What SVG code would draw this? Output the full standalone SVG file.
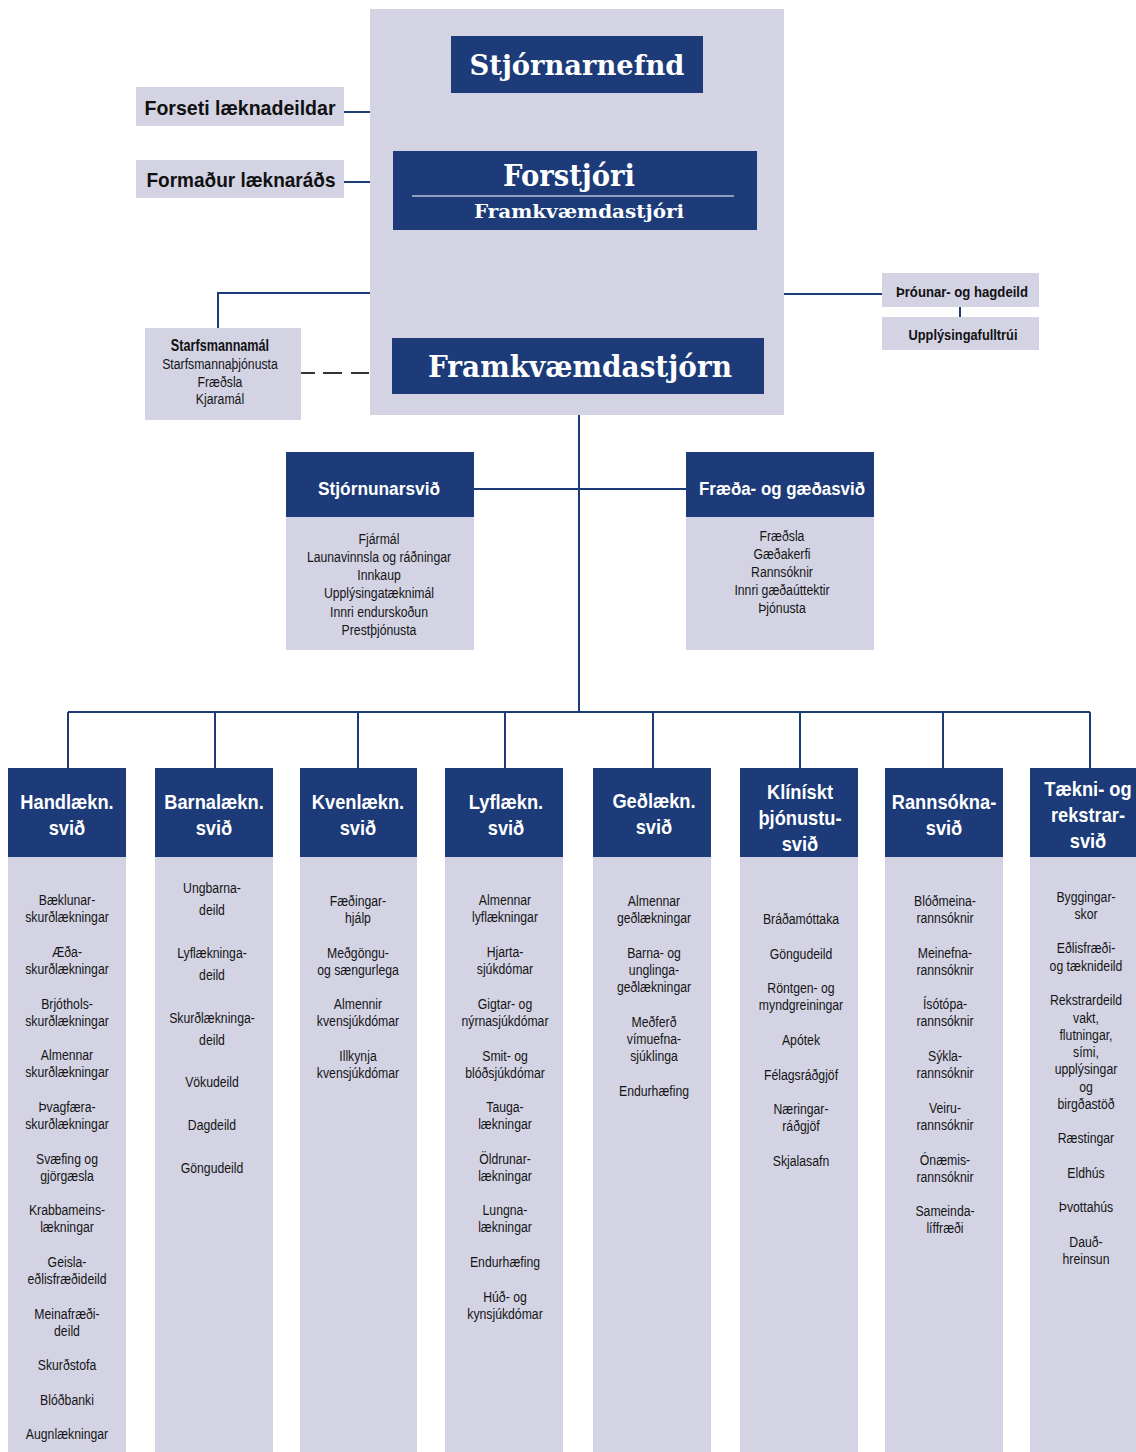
<svg xmlns="http://www.w3.org/2000/svg" width="1136" height="1452" viewBox="0 0 1136 1452">
<style>
.bg{fill:#d3d3e4}
.nv{fill:#1c3b78}
.ln{stroke:#1c3b78;stroke-width:2;fill:none}
.ttl{font-family:"DejaVu Serif","Liberation Serif",serif;font-weight:bold;fill:#fff;text-anchor:middle}
.hd{font-family:"Liberation Sans",Arial,sans-serif;font-weight:bold;fill:#fff;text-anchor:middle;font-size:21px}
.sh{font-family:"Liberation Sans",Arial,sans-serif;font-weight:bold;fill:#fff;text-anchor:middle;font-size:18px}
.bl{font-family:"Liberation Sans",Arial,sans-serif;font-weight:bold;fill:#111;text-anchor:middle}
.tx{font-family:"Liberation Sans",Arial,sans-serif;fill:#151515;text-anchor:middle;font-size:15.5px}
</style>
<rect width="1136" height="1452" fill="#fff"/>
<g id="connectors">
<path class="ln" d="M344 112H370M344 182H370M218 328V293H370M784 294H882M960 307V317M579 415V712M474 489H686M68 712H1090M68 712V768M215 712V768M358 712V768M505 712V768M653 712V768M800 712V768M943 712V768M1090 712V768"/>
<path d="M301 373H370" stroke="#333" stroke-width="2" fill="none" stroke-dasharray="14,8,19,9,18"/>
</g>
<g id="panel"><rect class="bg" x="370" y="9" width="414" height="406"/></g>
<g id="stjornarnefnd"><rect class="nv" x="451" y="36" width="252" height="57"/><text class="ttl" x="577" y="75" font-size="28" textLength="215" lengthAdjust="spacingAndGlyphs">Stjórnarnefnd</text></g>
<g id="forstjori"><rect class="nv" x="393" y="151" width="364" height="79"/><text class="ttl" x="569" y="186" font-size="29" textLength="132" lengthAdjust="spacingAndGlyphs">Forstjóri</text><line x1="412" y1="196" x2="734" y2="196" stroke="#fff" stroke-width="1.2"/><text class="ttl" x="579" y="218" font-size="19" textLength="210" lengthAdjust="spacingAndGlyphs">Framkvæmdastjóri</text></g>
<g id="framkvaemdastjorn"><rect class="nv" x="392" y="338" width="372" height="56"/><text class="ttl" x="580" y="377" font-size="30" textLength="304" lengthAdjust="spacingAndGlyphs">Framkvæmdastjórn</text></g>
<g id="forseti"><rect class="bg" x="136" y="87" width="208" height="39"/><text class="bl" x="240" y="115" font-size="21" textLength="191" lengthAdjust="spacingAndGlyphs">Forseti læknadeildar</text></g>
<g id="formadur"><rect class="bg" x="136" y="160" width="208" height="38"/><text class="bl" x="241" y="187" font-size="21" textLength="189" lengthAdjust="spacingAndGlyphs">Formaður læknaráðs</text></g>
<g id="starfsmannamal"><rect class="bg" x="145" y="328" width="156" height="92"/><g transform="matrix(0.79,0,0,1,46.2,0)"><text class="bl" x="220" y="351" font-size="16">Starfsmannamál</text><text class="tx" x="220" y="369">Starfsmannaþjónusta</text><text class="tx" x="220" y="387">Fræðsla</text><text class="tx" x="220" y="404">Kjaramál</text></g></g>
<g id="throunar"><rect class="bg" x="882" y="273" width="157" height="34"/><text class="bl" x="962" y="297" font-size="14.5" textLength="132" lengthAdjust="spacingAndGlyphs">Þróunar- og hagdeild</text></g>
<g id="upplysingafulltrui"><rect class="bg" x="882" y="317" width="157" height="33"/><text class="bl" x="963" y="340" font-size="14.5" textLength="109" lengthAdjust="spacingAndGlyphs">Upplýsingafulltrúi</text></g>
<g id="stjornunarsvid"><rect class="nv" x="286" y="452" width="188" height="65"/><rect class="bg" x="286" y="517" width="188" height="133"/><text class="sh" x="379" y="495" textLength="122" lengthAdjust="spacingAndGlyphs">Stjórnunarsvið</text>
<g transform="matrix(0.79,0,0,1,79.59,0)"><text class="tx" x="379" y="544">Fjármál</text><text class="tx" x="379" y="562">Launavinnsla og ráðningar</text><text class="tx" x="379" y="580">Innkaup</text><text class="tx" x="379" y="598">Upplýsingatæknimál</text><text class="tx" x="379" y="617">Innri endurskoðun</text><text class="tx" x="379" y="635">Prestþjónusta</text></g></g>
<g id="fraedasvid"><rect class="nv" x="686" y="452" width="188" height="65"/><rect class="bg" x="686" y="517" width="188" height="133"/><text class="sh" x="782" y="495" textLength="166" lengthAdjust="spacingAndGlyphs">Fræða- og gæðasvið</text>
<g transform="matrix(0.79,0,0,1,164.22,0)"><text class="tx" x="782" y="541">Fræðsla</text><text class="tx" x="782" y="559">Gæðakerfi</text><text class="tx" x="782" y="577">Rannsóknir</text><text class="tx" x="782" y="595">Innri gæðaúttektir</text><text class="tx" x="782" y="613">Þjónusta</text></g></g>
<g id="handlaekn"><rect class="nv" x="8" y="768" width="118" height="89"/><rect class="bg" x="8" y="857" width="118" height="595"/><g transform="matrix(0.87,0,0,1,8.71,0)"><text class="hd" x="67" y="809">Handlækn.</text><text class="hd" x="67" y="835">svið</text></g>
<g transform="matrix(0.79,0,0,1,14.07,0)"><text class="tx" x="67" y="905">Bæklunar-</text><text class="tx" x="67" y="922">skurðlækningar</text><text class="tx" x="67" y="957">Æða-</text><text class="tx" x="67" y="974">skurðlækningar</text><text class="tx" x="67" y="1009">Brjóthols-</text><text class="tx" x="67" y="1026">skurðlækningar</text><text class="tx" x="67" y="1060">Almennar</text><text class="tx" x="67" y="1077">skurðlækningar</text><text class="tx" x="67" y="1112">Þvagfæra-</text><text class="tx" x="67" y="1129">skurðlækningar</text><text class="tx" x="67" y="1164">Svæfing og</text><text class="tx" x="67" y="1181">gjörgæsla</text><text class="tx" x="67" y="1215">Krabbameins-</text><text class="tx" x="67" y="1232">lækningar</text><text class="tx" x="67" y="1267">Geisla-</text><text class="tx" x="67" y="1284">eðlisfræðideild</text><text class="tx" x="67" y="1319">Meinafræði-</text><text class="tx" x="67" y="1336">deild</text><text class="tx" x="67" y="1370">Skurðstofa</text><text class="tx" x="67" y="1405">Blóðbanki</text><text class="tx" x="67" y="1439">Augnlækningar</text></g></g>
<g id="barnalaekn"><rect class="nv" x="155" y="768" width="118" height="89"/><rect class="bg" x="155" y="857" width="118" height="595"/><g transform="matrix(0.87,0,0,1,27.82,0)"><text class="hd" x="214" y="809">Barnalækn.</text><text class="hd" x="214" y="835">svið</text></g>
<g transform="matrix(0.79,0,0,1,44.52,0)"><text class="tx" x="212" y="893">Ungbarna-</text><text class="tx" x="212" y="915">deild</text><text class="tx" x="212" y="958">Lyflækninga-</text><text class="tx" x="212" y="980">deild</text><text class="tx" x="212" y="1023">Skurðlækninga-</text><text class="tx" x="212" y="1045">deild</text><text class="tx" x="212" y="1087">Vökudeild</text><text class="tx" x="212" y="1130">Dagdeild</text><text class="tx" x="212" y="1173">Göngudeild</text></g></g>
<g id="kvenlaekn"><rect class="nv" x="300" y="768" width="117" height="89"/><rect class="bg" x="300" y="857" width="117" height="595"/><g transform="matrix(0.87,0,0,1,46.54,0)"><text class="hd" x="358" y="809">Kvenlækn.</text><text class="hd" x="358" y="835">svið</text></g>
<g transform="matrix(0.79,0,0,1,75.18,0)"><text class="tx" x="358" y="906">Fæðingar-</text><text class="tx" x="358" y="923">hjálp</text><text class="tx" x="358" y="958">Meðgöngu-</text><text class="tx" x="358" y="975">og sængurlega</text><text class="tx" x="358" y="1009">Almennir</text><text class="tx" x="358" y="1026">kvensjúkdómar</text><text class="tx" x="358" y="1061">Illkynja</text><text class="tx" x="358" y="1078">kvensjúkdómar</text></g></g>
<g id="lyflaekn"><rect class="nv" x="445" y="768" width="118" height="89"/><rect class="bg" x="445" y="857" width="118" height="595"/><g transform="matrix(0.87,0,0,1,65.78,0)"><text class="hd" x="506" y="809">Lyflækn.</text><text class="hd" x="506" y="835">svið</text></g>
<g transform="matrix(0.79,0,0,1,106.05,0)"><text class="tx" x="505" y="905">Almennar</text><text class="tx" x="505" y="922">lyflækningar</text><text class="tx" x="505" y="957">Hjarta-</text><text class="tx" x="505" y="974">sjúkdómar</text><text class="tx" x="505" y="1009">Gigtar- og</text><text class="tx" x="505" y="1026">nýrnasjúkdómar</text><text class="tx" x="505" y="1061">Smit- og</text><text class="tx" x="505" y="1078">blóðsjúkdómar</text><text class="tx" x="505" y="1112">Tauga-</text><text class="tx" x="505" y="1129">lækningar</text><text class="tx" x="505" y="1164">Öldrunar-</text><text class="tx" x="505" y="1181">lækningar</text><text class="tx" x="505" y="1215">Lungna-</text><text class="tx" x="505" y="1232">lækningar</text><text class="tx" x="505" y="1267">Endurhæfing</text><text class="tx" x="505" y="1302">Húð- og</text><text class="tx" x="505" y="1319">kynsjúkdómar</text></g></g>
<g id="gedlaekn"><rect class="nv" x="593" y="768" width="118" height="89"/><rect class="bg" x="593" y="857" width="118" height="595"/><g transform="matrix(0.87,0,0,1,85.02,0)"><text class="hd" x="654" y="808">Geðlækn.</text><text class="hd" x="654" y="834">svið</text></g>
<g transform="matrix(0.79,0,0,1,137.34,0)"><text class="tx" x="654" y="906">Almennar</text><text class="tx" x="654" y="923">geðlækningar</text><text class="tx" x="654" y="958">Barna- og</text><text class="tx" x="654" y="975">unglinga-</text><text class="tx" x="654" y="992">geðlækningar</text><text class="tx" x="654" y="1027">Meðferð</text><text class="tx" x="654" y="1044">vímuefna-</text><text class="tx" x="654" y="1061">sjúklinga</text><text class="tx" x="654" y="1096">Endurhæfing</text></g></g>
<g id="kliniskt"><rect class="nv" x="740" y="768" width="118" height="89"/><rect class="bg" x="740" y="857" width="118" height="595"/><g transform="matrix(0.87,0,0,1,104,0)"><text class="hd" x="800" y="799">Klínískt</text><text class="hd" x="800" y="825">þjónustu-</text><text class="hd" x="800" y="851">svið</text></g>
<g transform="matrix(0.79,0,0,1,168.21,0)"><text class="tx" x="801" y="924">Bráðamóttaka</text><text class="tx" x="801" y="959">Göngudeild</text><text class="tx" x="801" y="993">Röntgen- og</text><text class="tx" x="801" y="1010">myndgreiningar</text><text class="tx" x="801" y="1045">Apótek</text><text class="tx" x="801" y="1080">Félagsráðgjöf</text><text class="tx" x="801" y="1114">Næringar-</text><text class="tx" x="801" y="1131">ráðgjöf</text><text class="tx" x="801" y="1166">Skjalasafn</text></g></g>
<g id="rannsokna"><rect class="nv" x="885" y="768" width="118" height="89"/><rect class="bg" x="885" y="857" width="118" height="595"/><g transform="matrix(0.87,0,0,1,122.72,0)"><text class="hd" x="944" y="809">Rannsókna-</text><text class="hd" x="944" y="835">svið</text></g>
<g transform="matrix(0.79,0,0,1,198.45,0)"><text class="tx" x="945" y="906">Blóðmeina-</text><text class="tx" x="945" y="923">rannsóknir</text><text class="tx" x="945" y="958">Meinefna-</text><text class="tx" x="945" y="975">rannsóknir</text><text class="tx" x="945" y="1009">Ísótópa-</text><text class="tx" x="945" y="1026">rannsóknir</text><text class="tx" x="945" y="1061">Sýkla-</text><text class="tx" x="945" y="1078">rannsóknir</text><text class="tx" x="945" y="1113">Veiru-</text><text class="tx" x="945" y="1130">rannsóknir</text><text class="tx" x="945" y="1165">Ónæmis-</text><text class="tx" x="945" y="1182">rannsóknir</text><text class="tx" x="945" y="1216">Sameinda-</text><text class="tx" x="945" y="1233">líffræði</text></g></g>
<g id="taekni"><rect class="nv" x="1030" y="768" width="106" height="89"/><rect class="bg" x="1030" y="857" width="106" height="595"/><g transform="matrix(0.87,0,0,1,141.44,0)"><text class="hd" x="1088" y="796">Tækni- og</text><text class="hd" x="1088" y="822">rekstrar-</text><text class="hd" x="1088" y="848">svið</text></g>
<g transform="matrix(0.79,0,0,1,228.06,0)"><text class="tx" x="1086" y="902">Byggingar-</text><text class="tx" x="1086" y="919">skor</text><text class="tx" x="1086" y="953">Eðlisfræði-</text><text class="tx" x="1086" y="971">og tæknideild</text><text class="tx" x="1086" y="1005">Rekstrardeild</text><text class="tx" x="1086" y="1023">vakt,</text><text class="tx" x="1086" y="1040">flutningar,</text><text class="tx" x="1086" y="1057">sími,</text><text class="tx" x="1086" y="1074">upplýsingar</text><text class="tx" x="1086" y="1092">og</text><text class="tx" x="1086" y="1109">birgðastöð</text><text class="tx" x="1086" y="1143">Ræstingar</text><text class="tx" x="1086" y="1178">Eldhús</text><text class="tx" x="1086" y="1212">Þvottahús</text><text class="tx" x="1086" y="1247">Dauð-</text><text class="tx" x="1086" y="1264">hreinsun</text></g></g>
</svg>
